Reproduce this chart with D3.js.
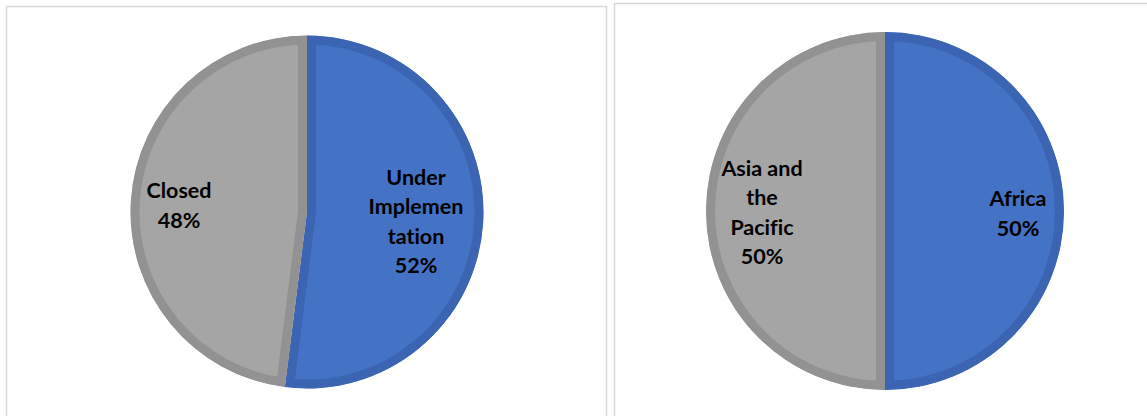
<!DOCTYPE html>
<html>
<head>
<meta charset="utf-8">
<script src="https://cdn.jsdelivr.net/npm/d3@7"></script>
<style>
  html, body { margin: 0; padding: 0; background: #ffffff; }
  svg { display: block; }
  text { font-family: Lato, "Open Sans", sans-serif; font-weight: 700; fill: #000; font-variant-ligatures: none; }
</style>
</head>
<body>
<svg id="chart" width="1147" height="416"></svg>
<script>
// Status of projects
const statusCategories = ["Under Implementation", "Closed"];
const statusValues = [52, 48];
const statusLabels = [["Under", "Implemen", "tation", "52%"], ["Closed", "48%"]];

// Projects by region
const regionCategories = ["Africa", "Asia and the Pacific"];
const regionValues = [50, 50];
const regionLabels = [["Africa", "50%"], ["Asia and", "the", "Pacific", "50%"]];

const fills = ["#4472C4", "#A5A5A5"];
const rims = ["#3B65B2", "#929292"];

const svg = d3.select("#chart");

// Panel frames
const panels = [
  { x: 6.5, y: 6.5, w: 600, h: 420 },
  { x: 614.5, y: 3.5, w: 540, h: 420 }
];
svg.selectAll("rect.frame").data(panels).join("rect")
  .attr("class", "frame")
  .attr("x", d => d.x).attr("y", d => d.y)
  .attr("width", d => d.w).attr("height", d => d.h)
  .attr("fill", "none").attr("stroke", "#D9D9D9").attr("stroke-width", 1.5);

const defs = svg.append("defs");
let clipId = 0;

function drawPie(cfg) {
  const pie = d3.pie().sort(null).value(d => d.value);
  const arc = d3.arc().innerRadius(0).outerRadius(cfg.r);
  const data = cfg.categories.map((c, i) => ({ name: c, value: cfg.values[i], lines: cfg.labels[i], idx: i }));
  const arcs = pie(data);

  // Each slice: flat fill with a darker rim drawn just inside its outline
  arcs.forEach((a, i) => {
    const id = "slice-clip-" + (clipId++);
    defs.append("clipPath").attr("id", id)
      .append("path").attr("d", arc(a)).attr("transform", `translate(${cfg.cx},${cfg.cy})`);
    svg.append("g").attr("clip-path", `url(#${id})`)
      .append("path")
      .attr("transform", `translate(${cfg.cx},${cfg.cy})`)
      .attr("d", arc(a))
      .attr("fill", fills[i])
      .attr("stroke", rims[i])
      .attr("stroke-width", 18)
      .attr("stroke-linejoin", "miter");
  });

  // Labels inside the slices
  const lineGap = 29.3;
  arcs.forEach((a, i) => {
    const off = cfg.labelOffsets[i];
    const lines = a.data.lines;
    const t = svg.append("text")
      .attr("text-anchor", "middle")
      .attr("font-size", 21.5);
    lines.forEach((ln, k) => {
      t.append("tspan")
        .attr("x", cfg.cx + off[0])
        .attr("y", cfg.cy + off[1] + (k - (lines.length - 1) / 2) * lineGap)
        .attr("dominant-baseline", "central")
        .text(ln);
    });
  });
}

drawPie({
  cx: 307, cy: 212, r: 176.5,
  categories: statusCategories, values: statusValues, labels: statusLabels,
  labelOffsets: [[109, 9], [-128, -7]]
});

drawPie({
  cx: 885, cy: 211, r: 179,
  categories: regionCategories, values: regionValues, labels: regionLabels,
  labelOffsets: [[133, 2], [-123, 1]]
});
</script>
</body>
</html>
